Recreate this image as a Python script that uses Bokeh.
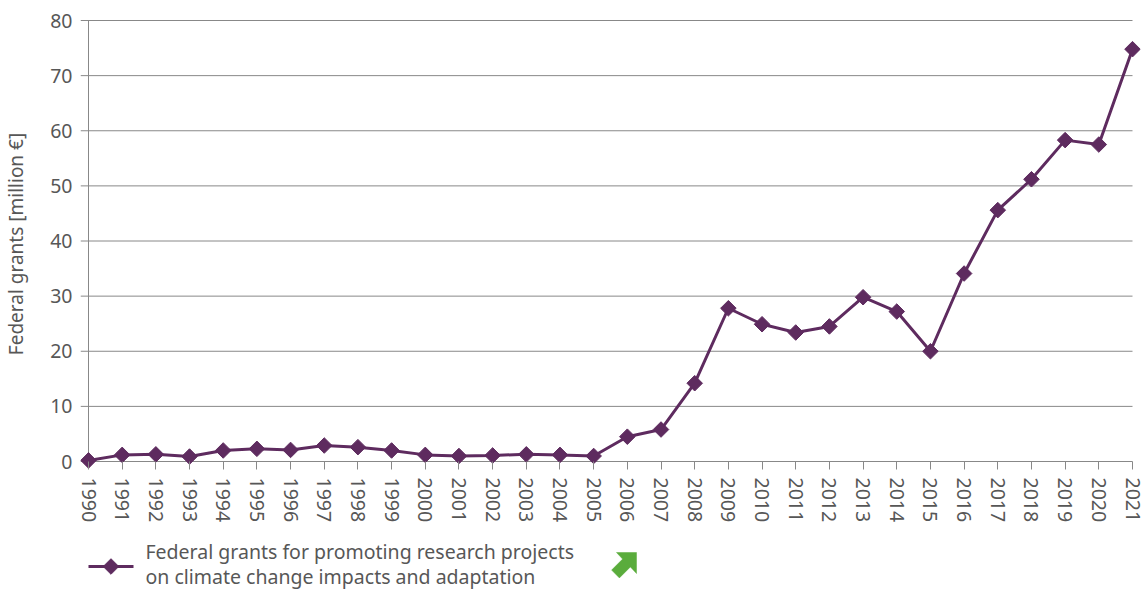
import numpy as np
from bokeh.plotting import figure
from bokeh.layouts import column
from bokeh.models import Range1d, FixedTicker, ColumnDataSource
from bokeh.core.properties import value
from bokeh.embed import file_html
from bokeh.resources import INLINE

# ---------------- data ----------------
years = [1990, 1991, 1992, 1993, 1994, 1995, 1996, 1997, 1998, 1999,
         2000, 2001, 2002, 2003, 2004, 2005, 2006, 2007, 2008, 2009,
         2010, 2011, 2012, 2013, 2014, 2015, 2016, 2017, 2018, 2019,
         2020, 2021]
grants = [0.2, 1.2, 1.3, 0.9, 2.0, 2.3, 2.1, 2.9, 2.6, 2.0,
          1.2, 1.0, 1.1, 1.3, 1.2, 1.0, 4.5, 5.8, 14.2, 27.8,
          24.9, 23.4, 24.5, 29.8, 27.2, 20.0, 34.1, 45.6, 51.2, 58.3,
          57.5, 74.8]
y_ticks = [0, 10, 20, 30, 40, 50, 60, 70, 80]
y_axis_title = "Federal grants [million \u20ac]"
legend_lines = ["Federal grants for promoting research projects",
                "on climate change impacts and adaptation"]

# ---------------- style ----------------
FONT = "Noto Sans"
TEXT = "#575757"
GRID = "#888888"
PURPLE = "#5e2b5f"
GREEN = "#5aac3c"

W = 1146
H1 = 525
H2 = 65

# pixel geometry of the main frame
frame_left, frame_right = 80, 1140
frame_top, frame_bottom = 18, 469
x0_px, x1_px = 88, 1132                  # 1990 / 2021
y80_px, y0_px = 20, 461                  # 80 / 0
kx = (x1_px - x0_px) / (years[-1] - years[0])
ky = (y0_px - y80_px) / (y_ticks[-1] - y_ticks[0])

p = figure(width=W, height=H1, output_backend="svg", toolbar_location=None,
           min_border_left=frame_left, min_border_right=W - frame_right,
           min_border_top=frame_top, min_border_bottom=H1 - frame_bottom,
           x_range=Range1d(years[0] - (x0_px - frame_left) / kx,
                           years[-1] + (frame_right - x1_px) / kx),
           y_range=Range1d(y_ticks[0] - (frame_bottom - y0_px) / ky,
                           y_ticks[-1] + (y80_px - frame_top) / ky))
p.outline_line_color = None
p.background_fill_color = "white"
p.border_fill_color = "white"
p.grid.visible = False

# grid lines (with the outward y tick stubs)
p.segment(x0=[p.x_range.start] * len(y_ticks), x1=[years[-1]] * len(y_ticks),
          y0=y_ticks, y1=y_ticks, line_color=GRID, line_width=1)
# y axis line
p.segment(x0=[years[0]], x1=[years[0]], y0=[y_ticks[0]], y1=[y_ticks[-1]],
          line_color=GRID, line_width=1)

src = ColumnDataSource(dict(x=years, y=grants))
p.line("x", "y", source=src, line_color=PURPLE, line_width=3)
p.scatter("x", "y", source=src, marker="square", angle=np.pi / 4, size=11,
          fill_color=PURPLE, line_color=PURPLE)

# x axis
xa = p.xaxis[0]
xa.ticker = FixedTicker(ticks=years)
xa.axis_line_color = None
xa.major_tick_in = 8
xa.major_tick_out = 0
xa.major_tick_line_color = GRID
xa.minor_tick_line_color = None
xa.major_label_orientation = "vertical"
xa.major_label_standoff = 8
xa.major_label_text_font = FONT
xa.major_label_text_font_size = "19.5px"
xa.major_label_text_color = TEXT

# y axis
ya = p.yaxis[0]
ya.ticker = FixedTicker(ticks=y_ticks)
ya.axis_line_color = None
ya.major_tick_line_color = None
ya.minor_tick_line_color = None
ya.major_tick_in = 0
ya.major_tick_out = 0
ya.major_label_standoff = 8
ya.major_label_text_font = FONT
ya.major_label_text_font_size = "19.5px"
ya.major_label_text_color = TEXT
ya.axis_label = y_axis_title
ya.axis_label_text_font = FONT
ya.axis_label_text_font_size = "19px"
ya.axis_label_text_font_style = "normal"
ya.axis_label_text_color = TEXT
ya.axis_label_standoff = 18

# ---------------- legend strip ----------------
# (the column aligns this strip's frame with the main frame, so its
#  x range is expressed in page pixels over that frame)
q = figure(width=W, height=H2, output_backend="svg", toolbar_location=None,
           min_border=0, min_border_left=frame_left,
           min_border_right=W - frame_right,
           min_border_top=0, min_border_bottom=0,
           x_axis_location=None, y_axis_location=None,
           x_range=Range1d(frame_left, frame_right), y_range=Range1d(H2, 0))
q.grid.visible = False
q.outline_line_color = None
q.border_fill_color = "white"

ly = 41
q.line(x=[88, 133], y=[ly, ly], line_color=PURPLE, line_width=3)
q.scatter(x=[110.5], y=[ly], marker="square", angle=np.pi / 4, size=11,
          fill_color=PURPLE, line_color=PURPLE)
q.text(x=[145, 145], y=[ly - 15, ly + 10], text=legend_lines,
       text_font=value(FONT), text_font_size="19.5px", text_color=TEXT,
       text_baseline="middle", text_align="left")

# green trend arrow (up-right)
arrow_x = [636, 636, 629.9, 618.9, 611.1, 622.1, 616]
arrow_y = [27, 48, 41.4, 52.4, 44.6, 33.6, 27]
q.patch(x=arrow_x, y=arrow_y, fill_color=GREEN, line_color=GREEN, line_width=0.5)

layout = column(p, q, spacing=0)
open("out.html", "w").write(file_html(layout, INLINE))
